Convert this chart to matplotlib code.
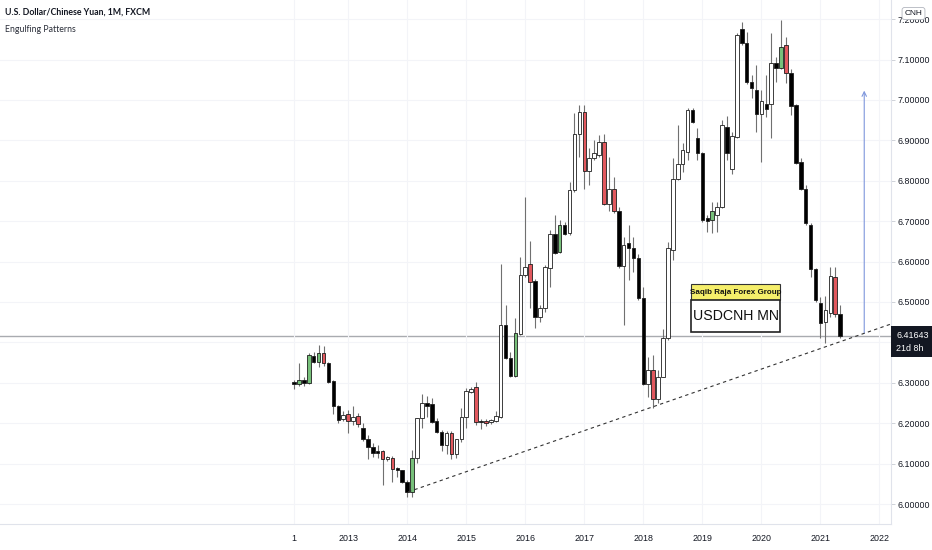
import matplotlib
matplotlib.use("Agg")
import matplotlib.pyplot as plt
import matplotlib.transforms as mtransforms
from matplotlib.patches import Rectangle

# monthly USDCNH candles, Feb 2012 .. May 2021 (index 0 = Feb 2012)
opens = [6.301, 6.296, 6.308, 6.300, 6.366, 6.351, 6.373, 6.350, 6.304, 6.242,
         6.210, 6.222, 6.206, 6.218, 6.189, 6.162, 6.140, 6.132, 6.130, 6.112,
         6.115, 6.088, 6.083, 6.055, 6.030, 6.113, 6.212, 6.249, 6.247, 6.205,
         6.179, 6.146, 6.176, 6.125, 6.160, 6.216, 6.278, 6.290, 6.206, 6.206,
         6.202, 6.206, 6.216, 6.443, 6.361, 6.317, 6.422, 6.567, 6.594, 6.553,
         6.464, 6.484, 6.583, 6.668, 6.623, 6.691, 6.670, 6.777, 6.917, 6.971,
         6.825, 6.856, 6.865, 6.897, 6.743, 6.779, 6.724, 6.589, 6.645, 6.633,
         6.610, 6.509, 6.297, 6.332, 6.259, 6.315, 6.410, 6.629, 6.804, 6.842,
         6.872, 6.975, 6.905, 6.870, 6.707, 6.703, 6.715, 6.736, 6.934, 6.829,
         6.908, 7.175, 7.140, 7.045, 7.025, 6.965, 6.990, 6.990, 7.092, 7.078,
         7.136, 7.068, 6.988, 6.847, 6.779, 6.691, 6.581, 6.497, 6.451, 6.474,
         6.563, 6.470]
highs = [6.308, 6.348, 6.315, 6.373, 6.375, 6.393, 6.391, 6.352, 6.307, 6.245,
         6.231, 6.233, 6.242, 6.226, 6.200, 6.171, 6.150, 6.146, 6.134, 6.119,
         6.119, 6.092, 6.084, 6.059, 6.134, 6.214, 6.272, 6.267, 6.262, 6.212,
         6.183, 6.181, 6.181, 6.162, 6.237, 6.286, 6.290, 6.303, 6.210, 6.210,
         6.211, 6.229, 6.594, 6.493, 6.377, 6.460, 6.612, 6.759, 6.652, 6.556,
         6.493, 6.591, 6.678, 6.715, 6.703, 6.699, 6.798, 6.967, 6.988, 6.988,
         6.880, 6.901, 6.913, 6.917, 6.860, 6.810, 6.736, 6.662, 6.691, 6.662,
         6.620, 6.538, 6.365, 6.369, 6.332, 6.432, 6.649, 6.856, 6.938, 6.893,
         6.979, 6.979, 6.930, 6.872, 6.715, 6.748, 6.748, 6.950, 6.960, 6.922,
         7.165, 7.194, 7.169, 7.062, 7.087, 7.025, 7.062, 7.165, 7.107, 7.198,
         7.157, 7.076, 6.990, 6.856, 6.790, 6.695, 6.583, 6.513, 6.515, 6.586,
         6.586, 6.492]
lows = [6.284, 6.292, 6.292, 6.297, 6.348, 6.340, 6.342, 6.299, 6.223, 6.200,
        6.206, 6.175, 6.196, 6.191, 6.157, 6.111, 6.116, 6.113, 6.047, 6.107,
        6.055, 6.068, 6.053, 6.018, 6.018, 6.102, 6.187, 6.216, 6.200, 6.175,
        6.130, 6.125, 6.111, 6.113, 6.154, 6.187, 6.274, 6.196, 6.185, 6.193,
        6.198, 6.202, 6.212, 6.358, 6.314, 6.314, 6.418, 6.561, 6.484, 6.435,
        6.451, 6.476, 6.538, 6.619, 6.621, 6.666, 6.666, 6.773, 6.860, 6.779,
        6.790, 6.851, 6.860, 6.740, 6.724, 6.720, 6.583, 6.443, 6.555, 6.575,
        6.505, 6.295, 6.266, 6.237, 6.249, 6.314, 6.406, 6.604, 6.802, 6.823,
        6.852, 6.942, 6.852, 6.699, 6.674, 6.670, 6.674, 6.732, 6.852, 6.817,
        6.905, 7.136, 7.040, 7.004, 6.922, 6.847, 6.957, 6.905, 7.045, 7.076,
        7.041, 6.963, 6.842, 6.776, 6.691, 6.563, 6.501, 6.410, 6.398, 6.464,
        6.464, 6.410]
closes = [6.296, 6.308, 6.300, 6.369, 6.351, 6.373, 6.348, 6.303, 6.242, 6.208,
          6.220, 6.206, 6.216, 6.197, 6.160, 6.142, 6.127, 6.127, 6.111, 6.117,
          6.086, 6.083, 6.055, 6.030, 6.115, 6.212, 6.249, 6.243, 6.204, 6.179,
          6.146, 6.176, 6.125, 6.160, 6.216, 6.280, 6.285, 6.204, 6.203, 6.200,
          6.207, 6.219, 6.443, 6.361, 6.317, 6.424, 6.567, 6.587, 6.550, 6.464,
          6.484, 6.586, 6.668, 6.622, 6.691, 6.668, 6.777, 6.917, 6.971, 6.825,
          6.856, 6.870, 6.897, 6.743, 6.779, 6.724, 6.589, 6.641, 6.633, 6.610,
          6.509, 6.297, 6.332, 6.259, 6.315, 6.410, 6.633, 6.804, 6.842, 6.876,
          6.975, 6.946, 6.868, 6.703, 6.701, 6.724, 6.736, 6.938, 6.868, 6.911,
          7.161, 7.140, 7.045, 7.029, 6.965, 6.998, 6.978, 7.091, 7.078, 7.132,
          7.068, 6.985, 6.845, 6.779, 6.695, 6.581, 6.505, 6.447, 6.480, 6.564,
          6.470, 6.416]

# candles flagged by the "Engulfing Patterns" script
bull_engulf = [1, 3, 5, 24, 45, 54, 85, 99]
bear_engulf = [6, 11, 13, 18, 20, 32, 37, 39, 48, 59, 63, 65, 73, 100, 110]

year_ticks = [0, 11, 23, 35, 47, 59, 71, 83, 95, 107, 119]
year_labels = ['1', '2013', '2014', '2015', '2016', '2017', '2018', '2019', '2020', '2021', '2022']
price_ticks = [6.0, 6.1, 6.2, 6.3, 6.4, 6.5, 6.6, 6.7, 6.8, 6.9, 7.0, 7.1, 7.2]
last_price = 6.41643

plt.rcParams['font.family'] = ['Liberation Sans', 'DejaVu Sans']

fig = plt.figure(figsize=(9.32, 5.5), dpi=100)
ax = fig.add_axes([0, 26 / 550, 891 / 932, 524 / 550])

n = len(opens)
xs = list(range(n))
colors = []
for i in xs:
    if i in bull_engulf:
        colors.append('#77c07a')
    elif i in bear_engulf:
        colors.append('#e2585e')
    elif closes[i] >= opens[i]:
        colors.append('white')
    else:
        colors.append('black')

ax.vlines(xs, lows, highs, color='#707070', lw=0.8, zorder=2)
bottoms = [min(o, c) for o, c in zip(opens, closes)]
heights = [max(abs(c - o), 0.003) for o, c in zip(opens, closes)]
ax.bar(xs, heights, bottom=bottoms, width=0.72, color=colors,
       edgecolor='#1e1e1e', linewidth=0.6, zorder=3)

# trend line from the 2014 low, running off the right edge
ax.plot([23.2, 125.0], [6.030, 6.461], color='#333333', lw=0.8,
        ls=(0, (3, 3)), zorder=4)
# current price line
ax.axhline(last_price, color='#a9abb0', lw=1.0, zorder=1)
# projection arrow
ax.annotate('', xy=(115.9, 7.03), xytext=(115.9, 6.416),
            arrowprops=dict(arrowstyle='->', color='#7f97dc', lw=0.8,
                            mutation_scale=8))

# label boxes
ax.add_patch(Rectangle((80.7, 6.505), 18.1, 0.040, facecolor='#f5ee6a',
                       edgecolor='#333333', lw=0.8, zorder=5))
ax.text(89.75, 6.5245, 'Saqib Raja Forex Group', fontsize=5.8, fontweight='bold',
        ha='center', va='center', color='#111111', zorder=6)
ax.add_patch(Rectangle((80.7, 6.426), 18.1, 0.079, facecolor='white',
                       edgecolor='#222222', lw=1.2, zorder=5))
ax.text(89.75, 6.4655, 'USDCNH MN', fontsize=10.2, ha='center', va='center',
        color='#111111', zorder=6)

ax.set_xlim(-59.76, 121.34)
ax.set_ylim(5.9505, 7.2475)

ax.set_xticks(year_ticks)
ax.set_xticklabels(year_labels)
ax.set_yticks(price_ticks)
# the 6.4 label sits under the price tag, so it is left blank
ax.set_yticklabels(['' if abs(p - 6.4) < 1e-9 else '%.5f' % p for p in price_ticks])
ax.yaxis.tick_right()
ax.tick_params(axis='both', labelsize=6.4, colors='#c8cbd2', labelcolor='#131722',
               length=3, width=0.6)
ax.tick_params(axis='y', pad=2)
ax.tick_params(axis='x', pad=7, length=0)
ax.grid(True, color='#f3f4f8', lw=0.8, zorder=0)
for side in ['top', 'left']:
    ax.spines[side].set_visible(False)
for side in ['right', 'bottom']:
    ax.spines[side].set_color('#e0e3eb')
    ax.spines[side].set_linewidth(0.8)

# price tag on the axis
trans = mtransforms.blended_transform_factory(ax.transAxes, ax.transData)
ax.add_patch(Rectangle((1.0, 6.364), 0.047, 0.077, transform=trans,
                       facecolor='#131722', edgecolor='none', clip_on=False, zorder=10))
ax.text(1.006, last_price, '%.5f' % last_price, transform=trans, fontsize=6.4,
        color='white', ha='left', va='center', clip_on=False, zorder=11)
ax.text(1.006, 6.384, '21d 8h', transform=trans, fontsize=6.4,
        color='white', ha='left', va='center', clip_on=False, zorder=11)

# symbol box over the top tick label
fig.text(913.5 / 932, 1 - 13.5 / 550, 'CNH', fontsize=6, ha='center', va='center',
         color='#131722',
         bbox=dict(boxstyle='round,pad=0.3', facecolor='white',
                   edgecolor='#b2b5be', lw=0.6))

fig.text(5 / 932, 1 - 12 / 550, 'U.S. Dollar/Chinese Yuan, 1M, FXCM',
         fontsize=6.3, fontweight='bold', color='#131722', va='center',
         family=['Lato', 'DejaVu Sans'])
fig.text(5 / 932, 1 - 30 / 550, 'Engulfing Patterns', fontsize=6.3,
         color='#2a2e39', va='center', family=['Lato', 'DejaVu Sans'])

fig.savefig('out.png', dpi=100)
